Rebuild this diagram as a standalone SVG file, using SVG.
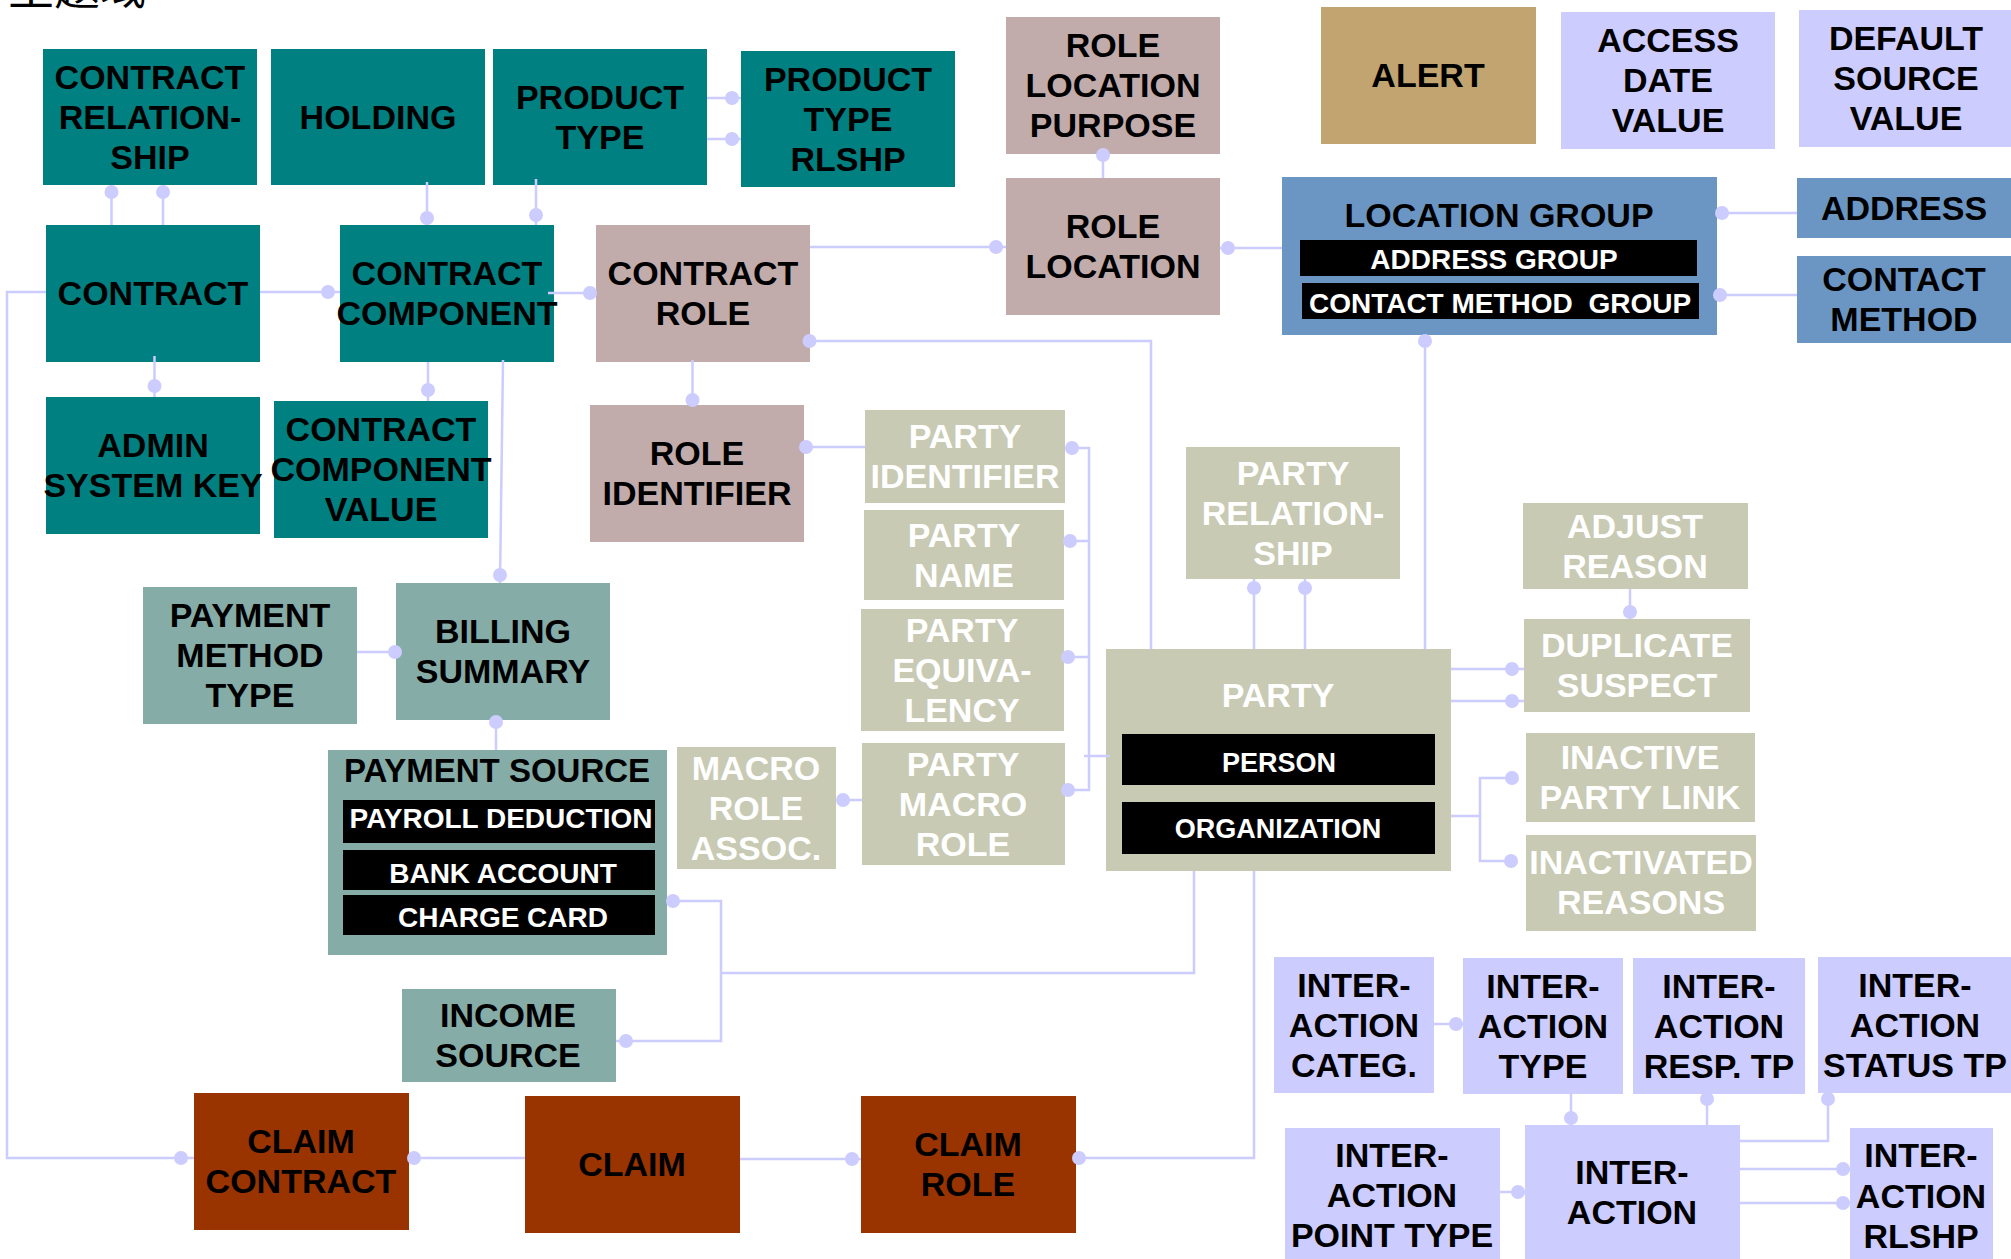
<svg xmlns="http://www.w3.org/2000/svg" width="2011" height="1259" viewBox="0 0 2011 1259">
<style>
  .teal{fill:#008080}
  .rose{fill:#c2abab}
  .tan{fill:#c1a46f}
  .lav{fill:#ccccff}
  .blue{fill:#6b96c3}
  .khaki{fill:#c8cab4}
  .sage{fill:#86aca8}
  .rust{fill:#993300}
  .bar{fill:#000}
  text{font-family:"Liberation Sans",Arial,sans-serif;font-weight:bold;font-size:34px;text-anchor:middle;fill:#000}
  text.w{fill:#fff}
  text.s{font-size:28px}
  text.title{font-family:"Noto Sans CJK SC",serif;font-weight:normal;font-size:46px;text-anchor:start}
  .c{fill:none;stroke:#ccccff;stroke-width:2.5}
  .d{fill:#ccccff}
</style>

<text class="title" x="8" y="4">主题域</text>

<!-- contract subject area -->
<g id="contract-relationship"><rect class="teal" x="43" y="49" width="214" height="136"/><text><tspan x="150" y="89">CONTRACT</tspan><tspan x="150" y="129">RELATION-</tspan><tspan x="150" y="169">SHIP</tspan></text></g>
<g id="holding"><rect class="teal" x="271" y="49" width="214" height="136"/><text x="378" y="129">HOLDING</text></g>
<g id="product-type"><rect class="teal" x="493" y="49" width="214" height="136"/><text><tspan x="600" y="109">PRODUCT</tspan><tspan x="600" y="149">TYPE</tspan></text></g>
<g id="product-type-rlshp"><rect class="teal" x="741" y="51" width="214" height="136"/><text><tspan x="848" y="91">PRODUCT</tspan><tspan x="848" y="131">TYPE</tspan><tspan x="848" y="171">RLSHP</tspan></text></g>
<g id="contract"><rect class="teal" x="46" y="225" width="214" height="137"/><text x="153" y="305">CONTRACT</text></g>
<g id="contract-component"><rect class="teal" x="340" y="225" width="214" height="137"/><text><tspan x="447" y="285">CONTRACT</tspan><tspan x="447" y="325">COMPONENT</tspan></text></g>
<g id="admin-system-key"><rect class="teal" x="46" y="397" width="214" height="137"/><text><tspan x="153" y="457">ADMIN</tspan><tspan x="153" y="497">SYSTEM KEY</tspan></text></g>
<g id="contract-component-value"><rect class="teal" x="274" y="401" width="214" height="137"/><text><tspan x="381" y="441">CONTRACT</tspan><tspan x="381" y="481">COMPONENT</tspan><tspan x="381" y="521">VALUE</tspan></text></g>

<!-- role / location -->
<g id="contract-role"><rect class="rose" x="596" y="225" width="214" height="137"/><text><tspan x="703" y="285">CONTRACT</tspan><tspan x="703" y="325">ROLE</tspan></text></g>
<g id="role-identifier"><rect class="rose" x="590" y="405" width="214" height="137"/><text><tspan x="697" y="465">ROLE</tspan><tspan x="697" y="505">IDENTIFIER</tspan></text></g>
<g id="role-location-purpose"><rect class="rose" x="1006" y="17" width="214" height="137"/><text><tspan x="1113" y="57">ROLE</tspan><tspan x="1113" y="97">LOCATION</tspan><tspan x="1113" y="137">PURPOSE</tspan></text></g>
<g id="role-location"><rect class="rose" x="1006" y="178" width="214" height="137"/><text><tspan x="1113" y="238">ROLE</tspan><tspan x="1113" y="278">LOCATION</tspan></text></g>
<g id="location-group"><rect class="blue" x="1282" y="177" width="435" height="158"/><text x="1499" y="227">LOCATION GROUP</text>
  <rect class="bar" x="1300" y="240" width="397" height="36"/><text class="w s" x="1494" y="269">ADDRESS GROUP</text>
  <rect class="bar" x="1302" y="283" width="397" height="36"/><text class="w s" x="1500" y="313" style="white-space:pre">CONTACT METHOD  GROUP</text></g>
<g id="address"><rect class="blue" x="1797" y="178" width="216" height="60"/><text x="1904" y="220">ADDRESS</text></g>
<g id="contact-method"><rect class="blue" x="1797" y="256" width="216" height="87"/><text><tspan x="1904" y="291">CONTACT</tspan><tspan x="1904" y="331">METHOD</tspan></text></g>
<g id="alert"><rect class="tan" x="1321" y="7" width="215" height="137"/><text x="1428" y="87">ALERT</text></g>
<g id="access-date-value"><rect class="lav" x="1561" y="12" width="214" height="137"/><text><tspan x="1668" y="52">ACCESS</tspan><tspan x="1668" y="92">DATE</tspan><tspan x="1668" y="132">VALUE</tspan></text></g>
<g id="default-source-value"><rect class="lav" x="1799" y="10" width="214" height="137"/><text><tspan x="1906" y="50">DEFAULT</tspan><tspan x="1906" y="90">SOURCE</tspan><tspan x="1906" y="130">VALUE</tspan></text></g>

<!-- party subject area -->
<g id="party-identifier"><rect class="khaki" x="865" y="410" width="200" height="93"/><text class="w"><tspan x="965" y="448">PARTY</tspan><tspan x="965" y="488">IDENTIFIER</tspan></text></g>
<g id="party-name"><rect class="khaki" x="864" y="510" width="200" height="90"/><text class="w"><tspan x="964" y="547">PARTY</tspan><tspan x="964" y="587">NAME</tspan></text></g>
<g id="party-equivalency"><rect class="khaki" x="861" y="609" width="203" height="122"/><text class="w"><tspan x="962" y="642">PARTY</tspan><tspan x="962" y="682">EQUIVA-</tspan><tspan x="962" y="722">LENCY</tspan></text></g>
<g id="party-macro-role"><rect class="khaki" x="862" y="743" width="203" height="122"/><text class="w"><tspan x="963" y="776">PARTY</tspan><tspan x="963" y="816">MACRO</tspan><tspan x="963" y="856">ROLE</tspan></text></g>
<g id="macro-role-assoc"><rect class="khaki" x="677" y="747" width="159" height="122"/><text class="w"><tspan x="756" y="780">MACRO</tspan><tspan x="756" y="820">ROLE</tspan><tspan x="756" y="860">ASSOC.</tspan></text></g>
<g id="party-relationship"><rect class="khaki" x="1186" y="447" width="214" height="132"/><text class="w"><tspan x="1293" y="485">PARTY</tspan><tspan x="1293" y="525">RELATION-</tspan><tspan x="1293" y="565">SHIP</tspan></text></g>
<g id="party"><rect class="khaki" x="1106" y="649" width="345" height="222"/><text class="w" x="1278" y="707">PARTY</text>
  <rect class="bar" x="1122" y="734" width="313" height="51"/><text class="w" x="1279" y="772" style="font-size:27px">PERSON</text>
  <rect class="bar" x="1122" y="802" width="313" height="52"/><text class="w" x="1278" y="838" style="font-size:27px">ORGANIZATION</text></g>
<g id="adjust-reason"><rect class="khaki" x="1523" y="503" width="225" height="86"/><text class="w"><tspan x="1635" y="538">ADJUST</tspan><tspan x="1635" y="578">REASON</tspan></text></g>
<g id="duplicate-suspect"><rect class="khaki" x="1524" y="619" width="226" height="93"/><text class="w"><tspan x="1637" y="657">DUPLICATE</tspan><tspan x="1637" y="697">SUSPECT</tspan></text></g>
<g id="inactive-party-link"><rect class="khaki" x="1526" y="733" width="229" height="89"/><text class="w"><tspan x="1640" y="769">INACTIVE</tspan><tspan x="1640" y="809">PARTY LINK</tspan></text></g>
<g id="inactivated-reasons"><rect class="khaki" x="1526" y="835" width="230" height="96"/><text class="w"><tspan x="1641" y="874">INACTIVATED</tspan><tspan x="1641" y="914">REASONS</tspan></text></g>

<!-- billing -->
<g id="payment-method-type"><rect class="sage" x="143" y="587" width="214" height="137"/><text><tspan x="250" y="627">PAYMENT</tspan><tspan x="250" y="667">METHOD</tspan><tspan x="250" y="707">TYPE</tspan></text></g>
<g id="billing-summary"><rect class="sage" x="396" y="583" width="214" height="137"/><text><tspan x="503" y="643">BILLING</tspan><tspan x="503" y="683">SUMMARY</tspan></text></g>
<g id="payment-source"><rect class="sage" x="328" y="750" width="339" height="205"/><text x="497" y="782" style="font-size:33px">PAYMENT SOURCE</text>
  <rect class="bar" x="343" y="800" width="312" height="43"/><text class="w s" x="501" y="828">PAYROLL DEDUCTION</text>
  <rect class="bar" x="343" y="850" width="312" height="40"/><text class="w s" x="503" y="883">BANK ACCOUNT</text>
  <rect class="bar" x="343" y="895" width="312" height="40"/><text class="w s" x="503" y="927">CHARGE CARD</text></g>
<g id="income-source"><rect class="sage" x="402" y="989" width="214" height="93"/><text><tspan x="508" y="1027">INCOME</tspan><tspan x="508" y="1067">SOURCE</tspan></text></g>

<!-- claims -->
<g id="claim-contract"><rect class="rust" x="194" y="1093" width="215" height="137"/><text><tspan x="301" y="1153">CLAIM</tspan><tspan x="301" y="1193">CONTRACT</tspan></text></g>
<g id="claim"><rect class="rust" x="525" y="1096" width="215" height="137"/><text x="632" y="1176">CLAIM</text></g>
<g id="claim-role"><rect class="rust" x="861" y="1096" width="215" height="137"/><text><tspan x="968" y="1156">CLAIM</tspan><tspan x="968" y="1196">ROLE</tspan></text></g>

<!-- interactions -->
<g id="interaction-categ"><rect class="lav" x="1274" y="957" width="160" height="136"/><text><tspan x="1354" y="997">INTER-</tspan><tspan x="1354" y="1037">ACTION</tspan><tspan x="1354" y="1077">CATEG.</tspan></text></g>
<g id="interaction-type"><rect class="lav" x="1463" y="958" width="160" height="136"/><text><tspan x="1543" y="998">INTER-</tspan><tspan x="1543" y="1038">ACTION</tspan><tspan x="1543" y="1078">TYPE</tspan></text></g>
<g id="interaction-resp-tp"><rect class="lav" x="1633" y="958" width="172" height="136"/><text><tspan x="1719" y="998">INTER-</tspan><tspan x="1719" y="1038">ACTION</tspan><tspan x="1719" y="1078">RESP. TP</tspan></text></g>
<g id="interaction-status-tp"><rect class="lav" x="1818" y="957" width="195" height="136"/><text><tspan x="1915" y="997">INTER-</tspan><tspan x="1915" y="1037">ACTION</tspan><tspan x="1915" y="1077">STATUS TP</tspan></text></g>
<g id="interaction-point-type"><rect class="lav" x="1285" y="1128" width="215" height="137"/><text><tspan x="1392" y="1167">INTER-</tspan><tspan x="1392" y="1207">ACTION</tspan><tspan x="1392" y="1247">POINT TYPE</tspan></text></g>
<g id="interaction"><rect class="lav" x="1525" y="1125" width="215" height="137"/><text><tspan x="1632" y="1184">INTER-</tspan><tspan x="1632" y="1224">ACTION</tspan></text></g>
<g id="interaction-rlshp"><rect class="lav" x="1850" y="1128" width="143" height="137"/><text><tspan x="1921" y="1167">INTER-</tspan><tspan x="1921" y="1208">ACTION</tspan><tspan x="1921" y="1248">RLSHP</tspan></text></g>

<!-- relationship lines, each with a dot at its many end -->
<g id="connectors">
  <path class="c" d="M111.5,185V225M163,185V225"/>
  <circle class="d" cx="111.5" cy="192" r="7"/><circle class="d" cx="163" cy="192" r="7"/>
  <path class="c" d="M427,182V225M536,179V225"/>
  <circle class="d" cx="427" cy="218" r="7"/><circle class="d" cx="536" cy="215" r="7"/>
  <path class="c" d="M707,98H741M707,139H741"/>
  <circle class="d" cx="732" cy="98" r="7"/><circle class="d" cx="732" cy="139" r="7"/>
  <path class="c" d="M260,292H340"/><circle class="d" cx="328" cy="292" r="7"/>
  <path class="c" d="M548,293H596"/><circle class="d" cx="590" cy="293" r="7"/>
  <path class="c" d="M154.5,356V397"/><circle class="d" cx="154.5" cy="386" r="7"/>
  <path class="c" d="M428,362V401"/><circle class="d" cx="428" cy="390" r="7"/>
  <path class="c" d="M503,360L500,583"/><circle class="d" cx="500" cy="575" r="7"/>
  <path class="c" d="M692.5,360V405"/><circle class="d" cx="692.5" cy="400" r="7"/>
  <path class="c" d="M46,292H7V1158H194"/><circle class="d" cx="181" cy="1158" r="7"/>
  <path class="c" d="M810,247H1006"/><circle class="d" cx="996" cy="247" r="7"/>
  <path class="c" d="M1103,154V178"/><circle class="d" cx="1103" cy="155" r="7"/>
  <path class="c" d="M1220,248H1282"/><circle class="d" cx="1228" cy="248" r="7"/>
  <path class="c" d="M810,341H1151V649"/><circle class="d" cx="809.5" cy="341" r="7"/>
  <path class="c" d="M1717,213H1797M1717,295H1797"/>
  <circle class="d" cx="1722" cy="213" r="7"/><circle class="d" cx="1720" cy="295" r="7"/>
  <path class="c" d="M1425,335V649"/><circle class="d" cx="1425" cy="341" r="7"/>
  <path class="c" d="M804,447H865"/><circle class="d" cx="806" cy="447" r="7"/>
  <path class="c" d="M1072,448H1089V790H1068M1070,541H1089M1068,657H1089M1084,756H1110"/>
  <circle class="d" cx="1072" cy="448" r="7"/><circle class="d" cx="1070" cy="541" r="7"/>
  <circle class="d" cx="1068" cy="657" r="7"/><circle class="d" cx="1068" cy="790" r="7"/>
  <path class="c" d="M843,800H862"/><circle class="d" cx="843" cy="800" r="7"/>
  <path class="c" d="M1254,579V649M1305,579V649"/>
  <circle class="d" cx="1254" cy="588" r="7"/><circle class="d" cx="1305" cy="588" r="7"/>
  <path class="c" d="M1630,589V619"/><circle class="d" cx="1630" cy="612" r="7"/>
  <path class="c" d="M1451,669H1524M1451,701H1524"/>
  <circle class="d" cx="1512" cy="669" r="7"/><circle class="d" cx="1512" cy="701" r="7"/>
  <path class="c" d="M1451,816H1480M1512,778H1480V861H1511"/>
  <circle class="d" cx="1512" cy="778" r="7"/><circle class="d" cx="1511" cy="861" r="7"/>
  <path class="c" d="M357,652H396"/><circle class="d" cx="395" cy="652" r="7"/>
  <path class="c" d="M496,720V750"/><circle class="d" cx="496" cy="722" r="7"/>
  <path class="c" d="M667,901H721V1041H616M721,973H1194V871"/>
  <circle class="d" cx="673" cy="901" r="7"/><circle class="d" cx="626" cy="1041" r="7"/>
  <path class="c" d="M1076,1158H1254V871"/><circle class="d" cx="1079" cy="1158" r="7"/>
  <path class="c" d="M409,1158H525"/><circle class="d" cx="414" cy="1158" r="7"/>
  <path class="c" d="M740,1159H861"/><circle class="d" cx="852" cy="1159" r="7"/>
  <path class="c" d="M1434,1024H1463"/><circle class="d" cx="1456" cy="1024" r="7"/>
  <path class="c" d="M1571,1093V1125"/><circle class="d" cx="1571" cy="1118" r="7"/>
  <path class="c" d="M1707,1099V1125"/><circle class="d" cx="1707" cy="1099" r="7"/>
  <path class="c" d="M1828,1099V1141H1740"/><circle class="d" cx="1828" cy="1099" r="7"/>
  <path class="c" d="M1500,1192H1525"/><circle class="d" cx="1518" cy="1192" r="7"/>
  <path class="c" d="M1740,1169H1850M1740,1203H1850"/>
  <circle class="d" cx="1843" cy="1169" r="7"/><circle class="d" cx="1843" cy="1203" r="7"/>
</g>
</svg>
